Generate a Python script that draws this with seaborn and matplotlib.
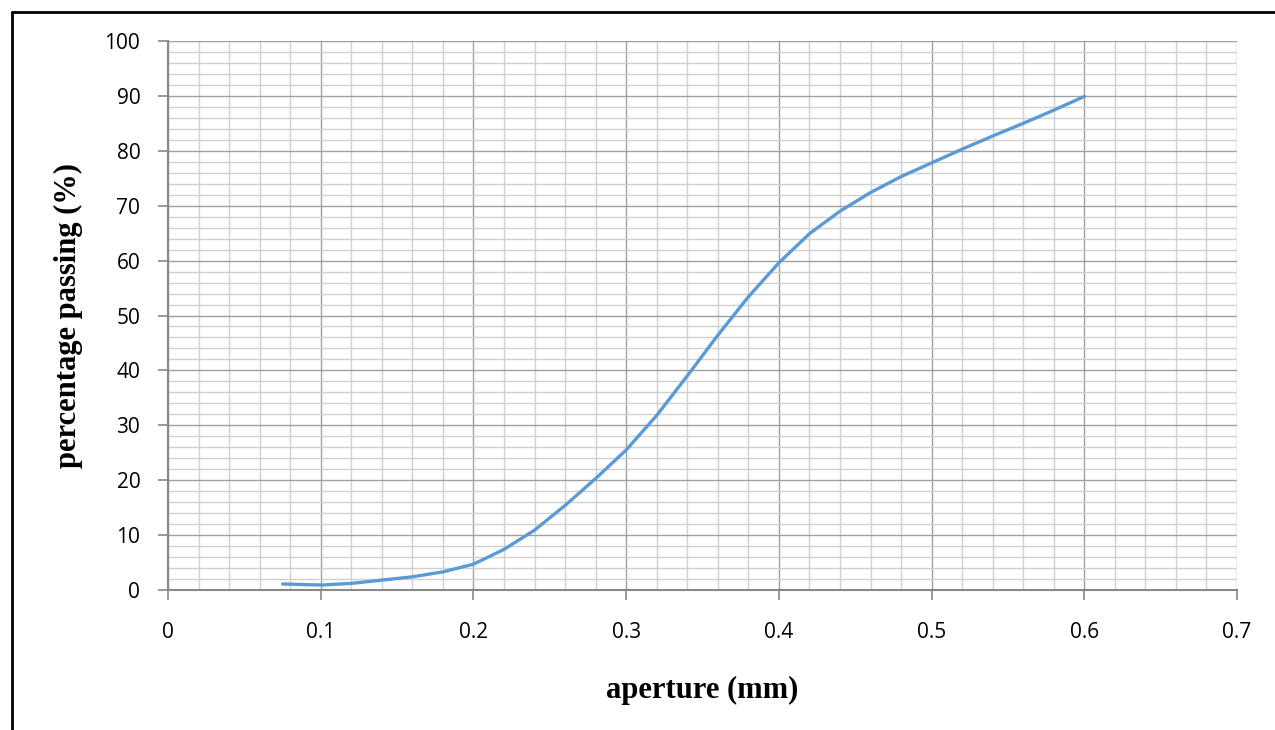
import numpy as np
import pandas as pd
import seaborn as sns
import matplotlib.pyplot as plt
from matplotlib.lines import Line2D
from matplotlib.ticker import MultipleLocator

aperture = [0.075, 0.1, 0.12, 0.14, 0.16, 0.18, 0.2, 0.22, 0.24, 0.26, 0.28,
            0.3, 0.32, 0.34, 0.36, 0.38, 0.4, 0.42, 0.44, 0.46, 0.48, 0.5,
            0.52, 0.54, 0.56, 0.58, 0.6]
passing = [1.1, 0.9, 1.2, 1.8, 2.4, 3.3, 4.7, 7.4, 10.9, 15.4, 20.3,
           25.5, 31.8, 39.0, 46.4, 53.4, 59.6, 64.9, 69.0, 72.4, 75.3, 77.8,
           80.3, 82.7, 85.0, 87.4, 89.9]

def make_frame():
    return pd.DataFrame({'aperture': aperture, 'passing': passing})

def plot_curve(data_df):
    sns.set_style('white')
    plt.rcParams['font.family'] = ['Open Sans', 'DejaVu Sans']
    fig = plt.figure(figsize=(12.75, 7.3), dpi=100)
    ax = fig.add_axes([0.1318, 0.1918, 0.9702 - 0.1318, 0.9438 - 0.1918])

    line = sns.lineplot(x='aperture', y='passing', data=data_df, ax=ax,
                        color='#5B9BD5', linewidth=2.4, zorder=5)
    line.lines[0].set_solid_joinstyle('round')
    line.lines[0].set_solid_capstyle('round')

    ax.set_xlim(0, 0.7)
    ax.set_ylim(0, 100)
    ax.xaxis.set_minor_locator(MultipleLocator(0.02))
    ax.yaxis.set_major_locator(MultipleLocator(10))
    ax.yaxis.set_minor_locator(MultipleLocator(2))
    ax.set_xticks(np.arange(0, 0.71, 0.1))
    ax.set_xticklabels(['0', '0.1', '0.2', '0.3', '0.4', '0.5', '0.6', '0.7'])

    ax.grid(which='minor', color='#d0d0d0', linewidth=1.0)
    ax.grid(which='major', color='#a0a0a0', linewidth=1.0)
    ax.set_axisbelow(True)

    for side in ['top', 'right']:
        ax.spines[side].set_visible(False)
    for side in ['left', 'bottom']:
        ax.spines[side].set_color('#888888')
        ax.spines[side].set_linewidth(1.5)

    ax.tick_params(which='major', direction='out', length=7, width=1.2,
                   color='#888888', labelsize=15, labelcolor='black')
    ax.tick_params(which='minor', length=0)
    ax.tick_params(axis='x', bottom=True, pad=16)
    ax.tick_params(axis='y', left=True, pad=13)

    ax.set_xlabel('aperture (mm)', family='Liberation Serif', fontweight='bold',
                  fontsize=22, color='black')
    ax.set_ylabel('percentage passing (%)', family='Liberation Serif',
                  fontweight='bold', fontsize=22, color='black')
    ax.xaxis.set_label_coords(0.5, (590 - 690) / 549)
    ax.yaxis.set_label_coords((68 - 168) / 1069, 0.5)
    ax.xaxis.label.set_va('center')
    ax.yaxis.label.set_va('center')

    # outer frame of the chart area (cut off on the right and bottom)
    fig.add_artist(Line2D([12 / 1275, 1], [1 - 12 / 730, 1 - 12 / 730],
                          color='black', linewidth=2, transform=fig.transFigure))
    fig.add_artist(Line2D([12 / 1275, 12 / 1275], [0, 1 - 12 / 730],
                          color='black', linewidth=2, transform=fig.transFigure))

    fig.savefig('out.png', dpi=100)

def main():
    data_df = make_frame()
    plot_curve(data_df)

main()
